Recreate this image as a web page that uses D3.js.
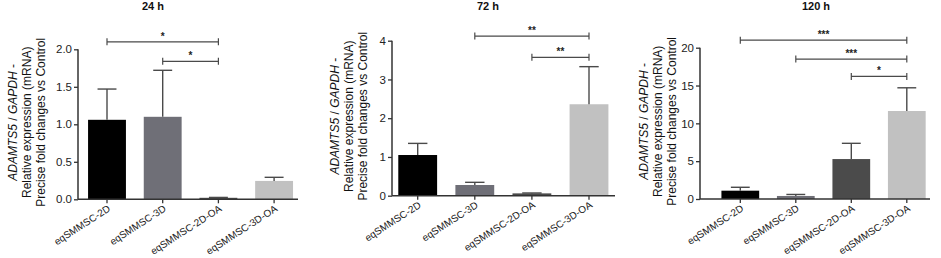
<!DOCTYPE html>
<html>
<head>
<meta charset="utf-8">
<script src="https://cdn.jsdelivr.net/npm/d3@7"></script>
<style>
  body { margin: 0; background: #fff; }
  svg { display: block; font-family: Arial, 'Liberation Sans', Helvetica, sans-serif; }
</style>
</head>
<body>
<div id="chart"></div>
<script>
const categories = ['eqSMMSC-2D', 'eqSMMSC-3D', 'eqSMMSC-2D-OA', 'eqSMMSC-3D-OA'];
const barColors = ['#000000', '#6f6f77', '#4b4b4b', '#c1c1c1'];

const titles = ['24 h', '72 h', '120 h'];

const means24 = [1.06, 1.10, 0.02, 0.245];
const errTop24 = [1.47, 1.72, 0.025, 0.293];
const means72 = [1.05, 0.276, 0.06, 2.36];
const errTop72 = [1.35, 0.345, 0.07, 3.33];
const means120 = [1.1, 0.4, 5.28, 11.63];
const errTop120 = [1.55, 0.6, 7.36, 14.7];

const yTicks24 = ['0.0', '0.5', '1.0', '1.5', '2.0'];
const yTicks72 = ['0', '1', '2', '3', '4'];
const yTicks120 = ['0', '5', '10', '15', '20'];

// [from index, to index, height, label]
const sig24 = [[0, 2, 2.10, '*'], [1, 2, 1.84, '*']];
const sig72 = [[1, 3, 4.12, '**'], [2, 3, 3.57, '**']];
const sig120 = [[0, 3, 21.0, '***'], [1, 3, 18.5, '***'], [2, 3, 16.2, '*']];

const panels = [
  { title: titles[0], means: means24, tops: errTop24, ticks: yTicks24, sig: sig24,
    axisX: 78, axisEnd: 298, c1: 107, step: 55.7, y0: 199.3, y1: 49.3, titleX: 153, lab: -37 },
  { title: titles[1], means: means72, tops: errTop72, ticks: yTicks72, sig: sig72,
    axisX: 392, axisEnd: 615, c1: 417.7, step: 57.1, y0: 195.7, y1: 40.7, titleX: 488, lab: -29 },
  { title: titles[2], means: means120, tops: errTop120, ticks: yTicks120, sig: sig120,
    axisX: 700, axisEnd: 930, c1: 740.3, step: 55.5, y0: 199, y1: 47.7, titleX: 816, lab: -28 }
];

document.addEventListener('DOMContentLoaded', function () {
  const svg = d3.select('#chart')
    .append('svg')
    .attr('width', 941)
    .attr('height', 258);

  const axisColor = '#333';
  const errColor = '#4a4a4a';

  panels.forEach(p => {
    const g = svg.append('g');
    const maxVal = +p.ticks[p.ticks.length - 1];

    const x = d3.scaleBand()
      .domain(categories)
      .range([p.c1 - p.step / 2, p.c1 + 3.5 * p.step])
      .paddingInner(0.32)
      .paddingOuter(0.16);

    const y = d3.scaleLinear()
      .domain([0, maxVal])
      .range([p.y0, p.y1]);

    const cx = d => x(d) + x.bandwidth() / 2;

    // bars
    g.selectAll('.bar')
      .data(categories)
      .enter()
      .append('rect')
      .attr('x', d => x(d))
      .attr('width', x.bandwidth())
      .attr('y', (d, i) => y(p.means[i]))
      .attr('height', (d, i) => p.y0 - y(p.means[i]))
      .style('fill', (d, i) => barColors[i]);

    // error bars
    const capW = x.bandwidth() / 2;
    const err = g.selectAll('.err')
      .data(categories)
      .enter()
      .append('g')
      .style('stroke', errColor)
      .style('stroke-width', 1.4);
    err.append('line')
      .attr('x1', cx).attr('x2', cx)
      .attr('y1', (d, i) => y(p.means[i]))
      .attr('y2', (d, i) => y(p.tops[i]));
    err.append('line')
      .attr('x1', d => cx(d) - capW / 2).attr('x2', d => cx(d) + capW / 2)
      .attr('y1', (d, i) => y(p.tops[i]))
      .attr('y2', (d, i) => y(p.tops[i]));

    // y axis
    const yAxis = d3.axisLeft(y)
      .tickValues(p.ticks.map(Number))
      .tickFormat((d, i) => p.ticks[i])
      .tickSize(4)
      .tickPadding(2);
    const ya = g.append('g')
      .attr('transform', `translate(${p.axisX},0)`)
      .call(yAxis);
    ya.select('.domain').remove();
    ya.append('line')
      .attr('y1', p.y0).attr('y2', p.y1)
      .style('stroke', axisColor).style('stroke-width', 1.5);
    ya.selectAll('.tick line').style('stroke', axisColor).style('stroke-width', 1.3);
    ya.selectAll('.tick text')
      .style('font-size', '11.5px')
      .style('fill', '#222');

    // x axis
    const xa = g.append('g');
    xa.append('line')
      .attr('x1', p.axisX).attr('x2', p.axisEnd)
      .attr('y1', p.y0).attr('y2', p.y0)
      .style('stroke', axisColor).style('stroke-width', 1.5);
    xa.selectAll('.xtick')
      .data(categories)
      .enter()
      .append('line')
      .attr('x1', cx).attr('x2', cx)
      .attr('y1', p.y0).attr('y2', p.y0 + 4)
      .style('stroke', axisColor).style('stroke-width', 1.3);
    xa.selectAll('.xlabel')
      .data(categories)
      .enter()
      .append('text')
      .attr('transform', d => `translate(${cx(d) + 4},${p.y0 + 11}) rotate(-33)`)
      .attr('text-anchor', 'end')
      .style('font-size', '10px')
      .style('fill', '#222')
      .text(d => d);

    // y axis title
    const midY = (p.y0 + p.y1) / 2 - 2;
    const lab = g.append('text')
      .attr('transform', `translate(${p.axisX + p.lab + 4},${midY}) rotate(-90)`)
      .attr('text-anchor', 'middle')
      .style('font-size', '12px')
      .style('fill', '#111');
    const l1 = lab.append('tspan').attr('x', 0).attr('dy', -28);
    l1.append('tspan').style('font-style', 'italic').text('ADAMTS5');
    l1.append('tspan').text(' / ');
    l1.append('tspan').style('font-style', 'italic').text('GAPDH');
    l1.append('tspan').text(' -');
    lab.append('tspan').attr('x', 0).attr('dy', 14).text('Relative expression (mRNA)');
    lab.append('tspan').attr('x', 0).attr('dy', 14).text('Precise fold changes vs Control');

    // title
    g.append('text')
      .attr('x', p.titleX)
      .attr('y', 10)
      .attr('text-anchor', 'middle')
      .style('font-size', '11px')
      .style('font-weight', 'bold')
      .style('fill', '#111')
      .text(p.title);

    // significance brackets
    const br = g.selectAll('.sig')
      .data(p.sig)
      .enter()
      .append('g');
    br.append('path')
      .attr('d', d => {
        const xa1 = cx(categories[d[0]]), xa2 = cx(categories[d[1]]), yy = y(d[2]);
        return `M${xa1},${yy - 3.5}V${yy + 3.5}M${xa1},${yy}H${xa2}M${xa2},${yy - 3.5}V${yy + 3.5}`;
      })
      .style('fill', 'none')
      .style('stroke', errColor)
      .style('stroke-width', 1.2);
    br.append('text')
      .attr('x', d => (cx(categories[d[0]]) + cx(categories[d[1]])) / 2)
      .attr('y', d => y(d[2]) - 2)
      .attr('text-anchor', 'middle')
      .style('font-size', '10px')
      .style('font-weight', 'bold')
      .style('fill', '#222')
      .text(d => d[3]);
  });
});
</script>
</body>
</html>
